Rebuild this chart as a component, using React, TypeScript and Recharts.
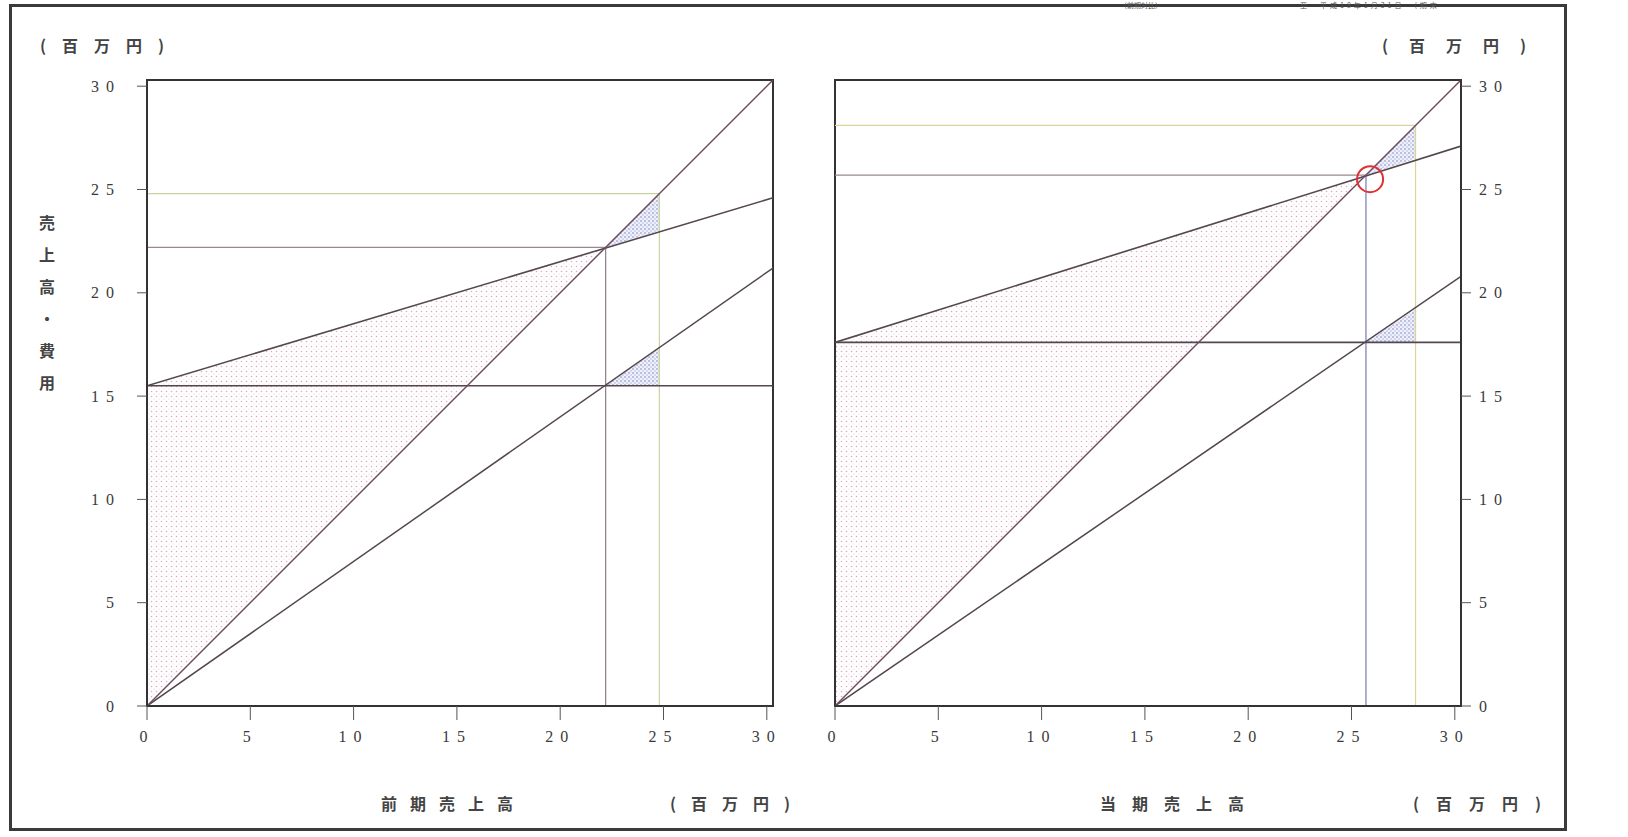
import { ComposedChart, Line, Area, XAxis, YAxis, ReferenceLine, ReferenceArea, ReferenceDot } from 'recharts';

const xTicks = [0, 5, 10, 15, 20, 25, 30];
const yTicks = [0, 5, 10, 15, 20, 25, 30];
const axisMax = 30.3;

// 前期 (left chart)
const prevX = [0, 22.2, 24.8, 30.3];
const prevSales = [0, null, null, 30.3];
const prevTotalCost = [15.5, null, null, 24.6];
const prevFixedCost = [15.5, null, null, 15.5];
const prevMarginLine = [0, null, null, 21.2];
const prevLoss = [[0, 15.5], [22.2, 22.2], null, null];
const prevProfitUpper = [null, [22.2, 22.2], [23.0, 24.8], null];
const prevProfitLower = [null, [15.5, 15.5], [15.5, 17.3], null];
const prevBreakEven = 22.2;
const prevActual = 24.8;

// 当期 (right chart)
const currX = [0, 25.7, 28.1, 30.3];
const currSales = [0, null, null, 30.3];
const currTotalCost = [17.6, null, null, 27.1];
const currFixedCost = [17.6, null, null, 17.6];
const currMarginLine = [0, null, null, 20.8];
const currLoss = [[0, 17.6], [25.7, 25.7], null, null];
const currProfitUpper = [null, [25.7, 25.7], [26.5, 28.1], null];
const currProfitLower = [null, [17.6, 17.6], [17.6, 19.2], null];
const currBreakEven = 25.7;
const currActual = 28.1;

const buildRows = (xs, sales, total, fixed, margin, loss, up, low) =>
  xs.map((x, i) => ({
    x,
    sales: sales[i],
    total: total[i],
    fixed: fixed[i],
    margin: margin[i],
    loss: loss[i],
    profitUpper: up[i],
    profitLower: low[i],
  }));

const prevRows = buildRows(prevX, prevSales, prevTotalCost, prevFixedCost, prevMarginLine, prevLoss, prevProfitUpper, prevProfitLower);
const currRows = buildRows(currX, currSales, currTotalCost, currFixedCost, currMarginLine, currLoss, currProfitUpper, currProfitLower);

const tickStyle = { fill: '#3a3a3a', fontSize: 16, fontFamily: '"Liberation Serif", "DejaVu Serif", serif', letterSpacing: 7 };
const lineColor = '#54474f';

function BreakEvenChart({ rows, breakEven, actual, side, beColor, actualColor, idPrefix, mark }) {
  const isLeft = side === 'left';
  return (
    <ComposedChart
      width={780}
      height={720}
      data={rows}
      margin={isLeft ? { top: 20, right: 47, bottom: 34, left: 47 } : { top: 20, right: 59, bottom: 34, left: 35 }}
    >
      <defs>
        <pattern id={`${idPrefix}-pink`} width="5" height="5" patternUnits="userSpaceOnUse">
          <circle cx="1.5" cy="1.5" r="0.8" fill="#dcaabb" />
          <circle cx="4" cy="4" r="0.6" fill="#ebcbd5" />
        </pattern>
        <pattern id={`${idPrefix}-blue`} width="4" height="4" patternUnits="userSpaceOnUse">
          <rect width="4" height="4" fill="#eef0fa" />
          <circle cx="1" cy="1" r="0.8" fill="#7c80c0" />
          <circle cx="3" cy="3" r="0.7" fill="#a6a8d8" />
        </pattern>
      </defs>
      <XAxis
        type="number"
        dataKey="x"
        domain={[0, axisMax]}
        ticks={xTicks}
        allowDataOverflow
        tickSize={14}
        tickMargin={11}
        height={40}
        tick={tickStyle}
        axisLine={{ stroke: '#333', strokeWidth: 2 }}
        tickLine={{ stroke: '#555' }}
      />
      <YAxis
        type="number"
        domain={[0, axisMax]}
        ticks={yTicks}
        allowDataOverflow
        orientation={side}
        width={60}
        tickSize={10}
        tickMargin={isLeft ? 16 : 8}
        tick={tickStyle}
        axisLine={{ stroke: '#333', strokeWidth: 2 }}
        tickLine={{ stroke: '#555' }}
      />
      <Area type="linear" dataKey="loss" stroke="none" fill={`url(#${idPrefix}-pink)`} fillOpacity={1} dot={false} activeDot={false} isAnimationActive={false} />
      <Area type="linear" dataKey="profitUpper" stroke="none" fill={`url(#${idPrefix}-blue)`} fillOpacity={1} dot={false} activeDot={false} isAnimationActive={false} />
      <Area type="linear" dataKey="profitLower" stroke="none" fill={`url(#${idPrefix}-blue)`} fillOpacity={1} dot={false} activeDot={false} isAnimationActive={false} />
      <ReferenceLine segment={[{ x: 0, y: actual }, { x: actual, y: actual }]} stroke={actualColor} strokeWidth={1.2} />
      <ReferenceLine segment={[{ x: actual, y: actual }, { x: actual, y: 0 }]} stroke={actualColor} strokeWidth={1.2} />
      <ReferenceLine segment={[{ x: 0, y: breakEven }, { x: breakEven, y: breakEven }]} stroke="#9a8890" strokeWidth={1.2} />
      <ReferenceLine segment={[{ x: breakEven, y: breakEven }, { x: breakEven, y: 0 }]} stroke={beColor} strokeWidth={1.2} />
      <Line type="linear" dataKey="fixed" stroke={lineColor} strokeWidth={1.6} dot={false} connectNulls isAnimationActive={false} />
      <Line type="linear" dataKey="margin" stroke={lineColor} strokeWidth={1.5} dot={false} connectNulls isAnimationActive={false} />
      <Line type="linear" dataKey="total" stroke={lineColor} strokeWidth={1.6} dot={false} connectNulls isAnimationActive={false} />
      <Line type="linear" dataKey="sales" stroke="#6a4c60" strokeWidth={1.4} dot={false} connectNulls isAnimationActive={false} />
      <ReferenceArea x1={0} x2={axisMax} y1={0} y2={axisMax} fill="none" stroke="#333" strokeWidth={2} />
      {mark && <ReferenceDot x={breakEven + 0.2} y={breakEven - 0.2} r={13} fill="none" stroke="#e03030" strokeWidth={2} />}
    </ComposedChart>
  );
}

const jpText = {
  position: 'absolute',
  fontFamily: '"Noto Sans CJK JP", sans-serif',
  fontWeight: 700,
  fontSize: 16,
  color: '#444',
  whiteSpace: 'nowrap',
  lineHeight: '18px',
} as const;

export default function App() {
  return (
    <div style={{ position: 'absolute', left: 0, top: 0, width: 1628, height: 837, background: '#fff', overflow: 'hidden' }}>
      <div style={{ position: 'absolute', left: 9, top: 4, width: 1558, height: 827, border: '3px solid #3a3a3a', boxSizing: 'border-box' }} />
      <div style={{ ...jpText, left: 1120, top: 2, fontSize: 7, lineHeight: '7px', fontWeight: 400, color: '#555' }}>（前期対比）</div>
      <div style={{ ...jpText, left: 1300, top: 2, fontSize: 7, lineHeight: '7px', fontWeight: 400, color: '#555', letterSpacing: 3 }}>至　平成18年1月31日　(期末</div>
      <div style={{ position: 'absolute', left: 40, top: 60 }}>
        <BreakEvenChart rows={prevRows} breakEven={prevBreakEven} actual={prevActual} side="left" beColor="#8a7e88" actualColor="#c8d4a0" idPrefix="prev" mark={false} />
      </div>
      <div style={{ position: 'absolute', left: 800, top: 60 }}>
        <BreakEvenChart rows={currRows} breakEven={currBreakEven} actual={currActual} side="right" beColor="#7878b4" actualColor="#d8d49a" idPrefix="curr" mark />
      </div>
      <div style={{ ...jpText, left: 40, top: 36, letterSpacing: 16 }}>(百万円)</div>
      <div style={{ ...jpText, left: 1382, top: 36, letterSpacing: 21 }}>(百万円)</div>
      <div style={{ ...jpText, left: 39, top: 206, lineHeight: '32px', whiteSpace: 'pre' }}>{'売\n上\n高\n・\n費\n用'}</div>
      <div style={{ ...jpText, left: 381, top: 794, letterSpacing: 13 }}>前期売上高</div>
      <div style={{ ...jpText, left: 670, top: 794, letterSpacing: 15 }}>(百万円)</div>
      <div style={{ ...jpText, left: 1100, top: 794, letterSpacing: 16 }}>当期売上高</div>
      <div style={{ ...jpText, left: 1413, top: 794, letterSpacing: 17 }}>(百万円)</div>
    </div>
  );
}
